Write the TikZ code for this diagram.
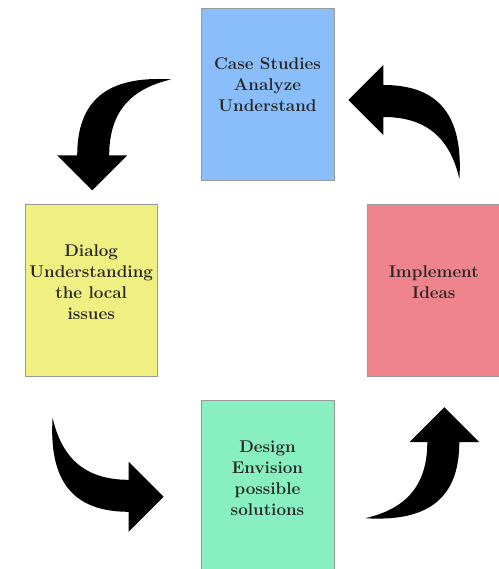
\documentclass[tikz,border=0pt]{standalone}
\usepackage{fontspec}
\setmainfont{Latin Modern Roman}
\usepackage{tikz}
\usetikzlibrary{positioning,calc}
\definecolor{casecolor}{RGB}{138,190,250}
\definecolor{dialogcolor}{RGB}{240,240,130}
\definecolor{implementcolor}{RGB}{240,132,140}
\definecolor{designcolor}{RGB}{136,240,192}

\begin{document}
\begin{tikzpicture}[
    x=1pt, y=1pt,
    stage/.style={rectangle, draw=gray!80, line width=0.8pt, minimum width=132pt, minimum height=172pt,
        inner sep=2pt, align=center, text depth=18pt, font=\fontsize{17}{21}\selectfont\bfseries, text=black!85},
    cyclearrow/.pic={
        \fill (0,0) -- (-35,35) -- (-15,35) .. controls (-15,90) and (15,115) .. (79,111)
            .. controls (40,102) and (17,80) .. (17,35) -- (35,35) -- cycle;
    }
]
    \useasboundingbox (0,0) rectangle (498,-569);

    % Stages of the cycle
    \node[stage, fill=casecolor, minimum width=133pt] (casestudy) at (267.5,-94) {Case Studies\\Analyze\\Understand};
    \node[stage, fill=dialogcolor, below left=24pt and 43pt of casestudy] (dialog) {Dialog\\Understanding\\the local\\issues};
    \node[stage, fill=implementcolor, below right=24pt and 33pt of casestudy] (implement) {Implement\\Ideas};
    \node[stage, fill=designcolor, minimum width=133pt, below=220pt of casestudy] (design) {Design\\Envision\\possible\\solutions};

    % Curved arrows between stages
    \pic at ($(dialog.north)+(1,14)$) {cyclearrow};
    \pic[rotate=90] at ($(design.west)+(-37,-10)$) {cyclearrow};
    \pic[rotate=180] at ($(implement.south)+(10.5,-30)$) {cyclearrow};
    \pic[rotate=-90] at ($(casestudy.east)+(14,-6)$) {cyclearrow};
\end{tikzpicture}
\end{document}
